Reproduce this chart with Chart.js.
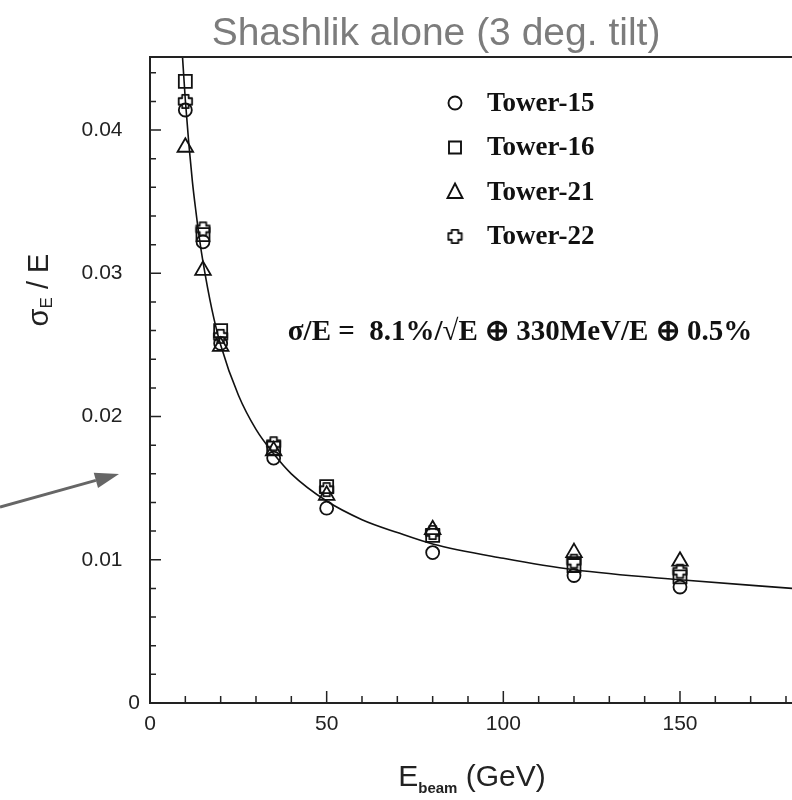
<!DOCTYPE html>
<html>
<head>
<meta charset="utf-8">
<script src="https://cdn.jsdelivr.net/npm/chart.js@4.4.1/dist/chart.umd.min.js"></script>
<style>
  html, body { margin: 0; padding: 0; background: #ffffff; }
  canvas { display: block; }
</style>
</head>
<body>
<canvas id="c" width="792" height="800"></canvas>
<script>
// ---- data ----
const energies = [10, 15, 20, 35, 50, 80, 120, 150];
const tower15 = [0.0414, 0.0322, 0.0251, 0.0171, 0.0136, 0.0105, 0.0089, 0.0081];
const tower16 = [0.0434, 0.0327, 0.0260, 0.0178, 0.0151, 0.0117, 0.0096, 0.0088];
const tower21 = [0.0388, 0.0302, 0.0249, 0.0176, 0.0145, 0.0121, 0.0105, 0.0099];
const tower22 = [0.0420, 0.0331, 0.0256, 0.0181, 0.0149, 0.0119, 0.0099, 0.0092];
const fitE   = [9.1, 10, 11, 12, 13, 14, 15, 17.5, 20, 25, 30, 35, 40, 50, 60, 70, 80, 100, 120, 150, 182];
const fitRes = [0.0455, 0.0421, 0.0390, 0.0364, 0.0343, 0.0324, 0.0308, 0.0275, 0.0250, 0.0215, 0.0191, 0.0174, 0.0160, 0.0141, 0.0128, 0.0119, 0.0111, 0.0101, 0.0093, 0.0086, 0.0080];
const seriesNames = ['Tower-15', 'Tower-16', 'Tower-21', 'Tower-22'];
const xTickValues = [0, 50, 100, 150];
const yTickValues = [0, 0.01, 0.02, 0.03, 0.04];
const titleText = 'Shashlik alone (3 deg. tilt)';
const formulaText = 'σ/E =  8.1%/√E ⊕ 330MeV/E ⊕ 0.5%';

// outlined plus marker
function makePlus(size, lw) {
  const cv = document.createElement('canvas');
  cv.width = size; cv.height = size;
  const g = cv.getContext('2d');
  const c = size / 2, a = size * 0.19, b = size / 2 - lw;
  g.beginPath();
  g.moveTo(c - a, c - b); g.lineTo(c + a, c - b); g.lineTo(c + a, c - a);
  g.lineTo(c + b, c - a); g.lineTo(c + b, c + a); g.lineTo(c + a, c + a);
  g.lineTo(c + a, c + b); g.lineTo(c - a, c + b); g.lineTo(c - a, c + a);
  g.lineTo(c - b, c + a); g.lineTo(c - b, c - a); g.lineTo(c - a, c - a);
  g.closePath();
  g.lineWidth = lw; g.strokeStyle = '#111'; g.lineJoin = 'round';
  g.stroke();
  return cv;
}
const plusImg = makePlus(17, 1.8);
const plusLegend = makePlus(17, 1.8);

function pts(ys) { return energies.map((e, i) => ({ x: e, y: ys[i] })); }

const markerDefs = [
  { style: 'circle', radius: 6.5 },
  { style: 'rect', radius: 9.2 },
  { style: 'triangle', radius: 9 },
  { style: plusImg, radius: 8 }
];
const seriesData = [tower15, tower16, tower21, tower22];

const datasets = seriesData.map((ys, i) => ({
  label: seriesNames[i],
  data: pts(ys),
  showLine: false,
  pointStyle: markerDefs[i].style,
  pointRadius: markerDefs[i].radius,
  pointBorderColor: '#111',
  pointBackgroundColor: 'rgba(0,0,0,0)',
  pointBorderWidth: 1.8,
  order: 1
}));
datasets.push({
  label: 'fit',
  data: fitE.map((e, i) => ({ x: e, y: fitRes[i] })),
  showLine: true,
  borderColor: '#111',
  borderWidth: 1.6,
  pointRadius: 0,
  cubicInterpolationMode: 'monotone',
  order: 2
});

const decor = {
  id: 'decor',
  afterDraw(chart) {
    const ctx = chart.ctx;
    const a = chart.chartArea;
    const xs = chart.scales.x, ys = chart.scales.y;
    ctx.save();
    // top border
    ctx.strokeStyle = '#222';
    ctx.lineWidth = 2;
    ctx.beginPath();
    ctx.moveTo(a.left, a.top); ctx.lineTo(a.right, a.top);
    ctx.stroke();
    // inward ticks
    ctx.lineWidth = 1.5;
    ctx.strokeStyle = '#222';
    ctx.beginPath();
    for (let v = 0; v <= xs.max; v += 10) {
      const px = xs.getPixelForValue(v);
      const len = (v % 50 === 0) ? 12 : 7;
      ctx.moveTo(px, a.bottom); ctx.lineTo(px, a.bottom - len);
    }
    for (let k = 0; k * 0.002 <= ys.max + 1e-9; k++) {
      const v = k * 0.002;
      const py = ys.getPixelForValue(v);
      const len = (k % 5 === 0) ? 11 : 6;
      ctx.moveTo(a.left, py); ctx.lineTo(a.left + len, py);
    }
    ctx.stroke();

    // title
    ctx.fillStyle = '#7c7c7c';
    ctx.font = '39px "Liberation Sans", Arial, sans-serif';
    ctx.textAlign = 'center';
    ctx.textBaseline = 'alphabetic';
    ctx.fillText(titleText, 436, 45);

    // legend
    const lx = 455, ly0 = 103, ldy = 44.5;
    ctx.font = 'bold 27px "Liberation Serif", "Times New Roman", serif';
    ctx.textAlign = 'left';
    ctx.textBaseline = 'middle';
    for (let i = 0; i < 4; i++) {
      const y = ly0 + i * ldy;
      ctx.strokeStyle = '#111';
      ctx.lineWidth = 1.9;
      ctx.beginPath();
      if (i === 0) { ctx.arc(lx, y, 6.5, 0, Math.PI * 2); ctx.stroke(); }
      else if (i === 1) { ctx.rect(lx - 6, y - 6, 12, 12); ctx.stroke(); }
      else if (i === 2) {
        ctx.moveTo(lx, y - 8.5); ctx.lineTo(lx + 7.5, y + 6); ctx.lineTo(lx - 7.5, y + 6); ctx.closePath(); ctx.stroke();
      } else { ctx.drawImage(plusLegend, lx - 8.5, y - 8.5); }
      ctx.fillStyle = '#111';
      ctx.fillText(seriesNames[i], 487, y + 1);
    }

    // formula
    ctx.font = 'bold 29px "Liberation Serif", "Times New Roman", serif';
    ctx.textAlign = 'center';
    ctx.fillText(formulaText, 520, 333);

    // y title (rotated)
    ctx.save();
    ctx.translate(40, 290);
    ctx.rotate(-Math.PI / 2);
    ctx.fillStyle = '#222';
    ctx.textBaseline = 'middle';
    ctx.textAlign = 'left';
    const big = '29px "Liberation Sans", Arial, sans-serif';
    const small = '17px "Liberation Sans", Arial, sans-serif';
    ctx.font = big; const w1 = ctx.measureText('σ').width;
    ctx.font = small; const w2 = ctx.measureText('E').width;
    ctx.font = big; const w3 = ctx.measureText(' / E').width;
    let sx = -(w1 + w2 + w3) / 2;
    ctx.font = big; ctx.fillText('σ', sx, 0); sx += w1;
    ctx.font = small; ctx.fillText('E', sx, 7); sx += w2;
    ctx.font = big; ctx.fillText(' / E', sx, 0);
    ctx.restore();

    // x title
    ctx.fillStyle = '#222';
    ctx.textBaseline = 'alphabetic';
    ctx.textAlign = 'left';
    const xbig = '30px "Liberation Sans", Arial, sans-serif';
    const xsmall = 'bold 15px "Liberation Sans", Arial, sans-serif';
    ctx.font = xbig; const e1 = ctx.measureText('E').width;
    ctx.font = xsmall; const e2 = ctx.measureText('beam').width;
    ctx.font = xbig; const e3 = ctx.measureText(' (GeV)').width;
    let tx = 472 - (e1 + e2 + e3) / 2;
    ctx.font = xbig; ctx.fillText('E', tx, 786); tx += e1;
    ctx.font = xsmall; ctx.fillText('beam', tx, 793); tx += e2;
    ctx.font = xbig; ctx.fillText(' (GeV)', tx, 786);

    // arrow
    ctx.strokeStyle = '#666';
    ctx.fillStyle = '#666';
    ctx.lineWidth = 3;
    const x0 = 0, y0 = 507, x1 = 119, y1 = 474;
    const ang = Math.atan2(y1 - y0, x1 - x0);
    const hl = 24, hw = 8;
    const bx = x1 - hl * Math.cos(ang), by = y1 - hl * Math.sin(ang);
    ctx.beginPath(); ctx.moveTo(x0, y0); ctx.lineTo(bx, by); ctx.stroke();
    ctx.beginPath();
    ctx.moveTo(x1, y1);
    ctx.lineTo(bx + hw * Math.sin(ang), by - hw * Math.cos(ang));
    ctx.lineTo(bx - hw * Math.sin(ang), by + hw * Math.cos(ang));
    ctx.closePath(); ctx.fill();
    ctx.restore();
  }
};

new Chart(document.getElementById('c'), {
  type: 'scatter',
  data: { datasets },
  options: {
    responsive: false,
    animation: false,
    devicePixelRatio: 1,
    layout: { autoPadding: false, padding: { top: 57, right: 0, left: 0, bottom: 0 } },
    plugins: { legend: { display: false }, tooltip: { enabled: false }, title: { display: false } },
    scales: {
      x: {
        type: 'linear', min: 0, max: 181.7,
        afterFit(s) { s.height = 97; s.paddingRight = 0; s.paddingLeft = 0; },
        afterBuildTicks(s) { s.ticks = xTickValues.map(v => ({ value: v })); },
        grid: { display: false, drawTicks: false },
        border: { display: true, color: '#222', width: 2 },
        ticks: {
          padding: 9, color: '#222',
          font: { family: '"Liberation Sans", Arial, sans-serif', size: 21 },
          callback: v => String(v)
        }
      },
      y: {
        type: 'linear', min: 0, max: 0.0451,
        afterFit(s) { s.width = 150; s.paddingTop = 0; s.paddingBottom = 0; },
        afterBuildTicks(s) { s.ticks = yTickValues.map(v => ({ value: v })); },
        grid: { display: false, drawTicks: false },
        border: { display: true, color: '#222', width: 2 },
        ticks: {
          padding: 10, color: '#222',
          font: { family: '"Liberation Sans", Arial, sans-serif', size: 21 },
          callback: v => (v === 0 ? '0' : v.toFixed(2) + '   ')
        }
      }
    }
  },
  plugins: [decor]
});
</script>
</body>
</html>
